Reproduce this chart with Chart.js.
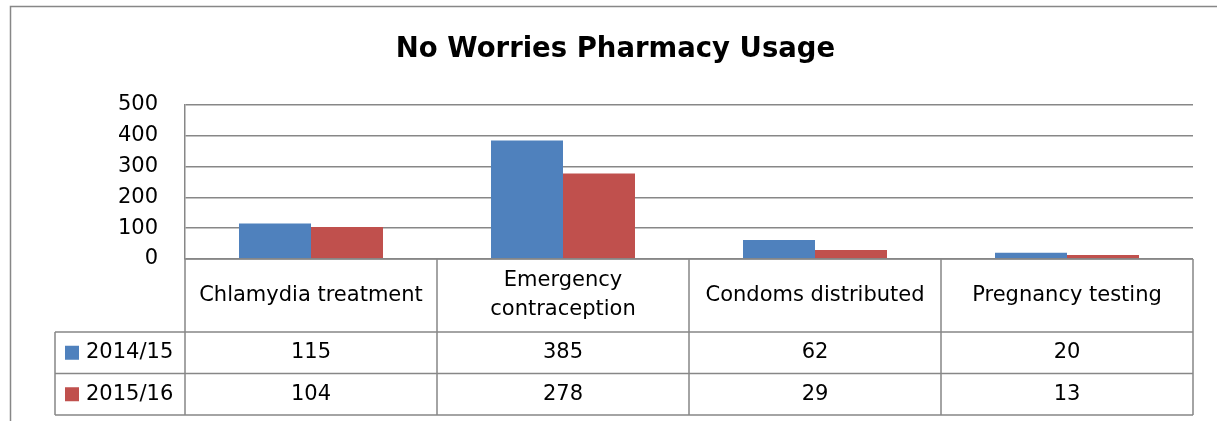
<!DOCTYPE html>
<html><head><meta charset="utf-8">
<script src="https://cdn.jsdelivr.net/npm/chart.js@4.4.1/dist/chart.umd.min.js"></script>
<style>html,body{margin:0;padding:0;background:#fff;} canvas{display:block;}</style>
</head><body>
<canvas id="c" width="1217" height="421"></canvas>
<script>
const chartTitle = 'No Worries Pharmacy Usage';
const categories = ['Chlamydia treatment', ['Emergency', 'contraception'], 'Condoms distributed', 'Pregnancy testing'];
const seriesNames = ['2014/15', '2015/16'];
const values2014 = [115, 385, 62, 20];
const values2015 = [104, 278, 29, 13];
const seriesColors = ['#4F81BD', '#C0504D'];
const yMin = 0, yMax = 500, yStep = 100;

const LINE = '#878787';
const FONT = '"DejaVu Sans", sans-serif';
Chart.defaults.font.family = FONT;
Chart.defaults.color = '#000';

const frame = {
  id: 'frame',
  beforeDraw(chart) {
    const ctx = chart.ctx;
    ctx.save();
    ctx.fillStyle = '#fff';
    ctx.fillRect(0, 0, chart.width, chart.height);
    ctx.strokeStyle = LINE;
    ctx.lineWidth = 1.5;
    ctx.strokeRect(10.5, 6.5, chart.width + 40, chart.height + 40);
    ctx.restore();
  }
};

const dataTable = {
  id: 'dataTable',
  afterDraw(chart) {
    const {ctx, chartArea, scales: {x}} = chart;
    const n = chart.data.labels.length;
    const half = (x.getPixelForValue(1) - x.getPixelForValue(0)) / 2;
    const left = chartArea.left, right = chartArea.right;
    const top = chartArea.bottom;
    const catBottom = top + 73;
    const rowH = 41.5;
    const legendLeft = left - 130;
    const ds = chart.data.datasets;
    const tableBottom = catBottom + rowH * ds.length;
    ctx.save();
    ctx.strokeStyle = LINE;
    ctx.lineWidth = 1.5;
    ctx.beginPath();
    ctx.moveTo(left, top); ctx.lineTo(right, top);
    for (let r = 0; r <= ds.length; r++) {
      const yy = catBottom + r * rowH;
      ctx.moveTo(legendLeft, yy); ctx.lineTo(right, yy);
    }
    for (let i = 0; i <= n; i++) {
      const xx = i < n ? x.getPixelForValue(i) - half : x.getPixelForValue(n - 1) + half;
      ctx.moveTo(xx, top); ctx.lineTo(xx, tableBottom);
    }
    ctx.moveTo(legendLeft, catBottom); ctx.lineTo(legendLeft, tableBottom);
    ctx.stroke();

    ctx.fillStyle = '#000';
    ctx.font = '21px ' + FONT;
    ctx.textAlign = 'center';
    ctx.textBaseline = 'middle';
    const lh = 29;
    chart.data.labels.forEach((lab, i) => {
      const lines = Array.isArray(lab) ? lab : [lab];
      const cx = x.getPixelForValue(i);
      const cy = (top + catBottom) / 2;
      lines.forEach((t, k) => {
        ctx.fillText(t, cx, cy + (k - (lines.length - 1) / 2) * lh);
      });
    });
    ds.forEach((d, r) => {
      const cy = catBottom + r * rowH + rowH / 2;
      ctx.fillStyle = d.backgroundColor;
      ctx.fillRect(legendLeft + 10, cy - 7, 14, 14);
      ctx.fillStyle = '#000';
      ctx.textAlign = 'left';
      ctx.fillText(d.label, legendLeft + 31, cy);
      ctx.textAlign = 'center';
      d.data.forEach((v, i) => ctx.fillText(String(v), x.getPixelForValue(i), cy));
    });
    ctx.restore();
  }
};

new Chart(document.getElementById('c'), {
  type: 'bar',
  data: {
    labels: categories,
    datasets: [
      {label: seriesNames[0], data: values2014, backgroundColor: seriesColors[0]},
      {label: seriesNames[1], data: values2015, backgroundColor: seriesColors[1]}
    ]
  },
  options: {
    responsive: false,
    animation: false,
    devicePixelRatio: 1,
    layout: {padding: {left: 38, right: 24, top: 0, bottom: 162}},
    datasets: {bar: {categoryPercentage: 0.5714, barPercentage: 1}},
    plugins: {
      legend: {display: false},
      tooltip: {enabled: false},
      title: {
        display: true,
        text: chartTitle,
        color: '#000',
        font: {family: FONT, size: 27.5, weight: 'bold', lineHeight: 1.2},
        padding: {top: 33.5, bottom: 38.5}
      }
    },
    scales: {
      x: {
        grid: {display: false, drawTicks: false},
        border: {display: false},
        ticks: {display: false},
        afterFit(s) { s.height = 0; }
      },
      y: {
        min: yMin, max: yMax,
        ticks: {stepSize: yStep, font: {size: 21}, color: '#000', padding: 27},
        grid: {color: LINE, lineWidth: 1.5, drawTicks: false},
        border: {display: true, color: LINE, width: 1.5},
        afterFit(s) { s.width = 147; }
      }
    }
  },
  plugins: [frame, dataTable]
});
</script>
</body></html>
